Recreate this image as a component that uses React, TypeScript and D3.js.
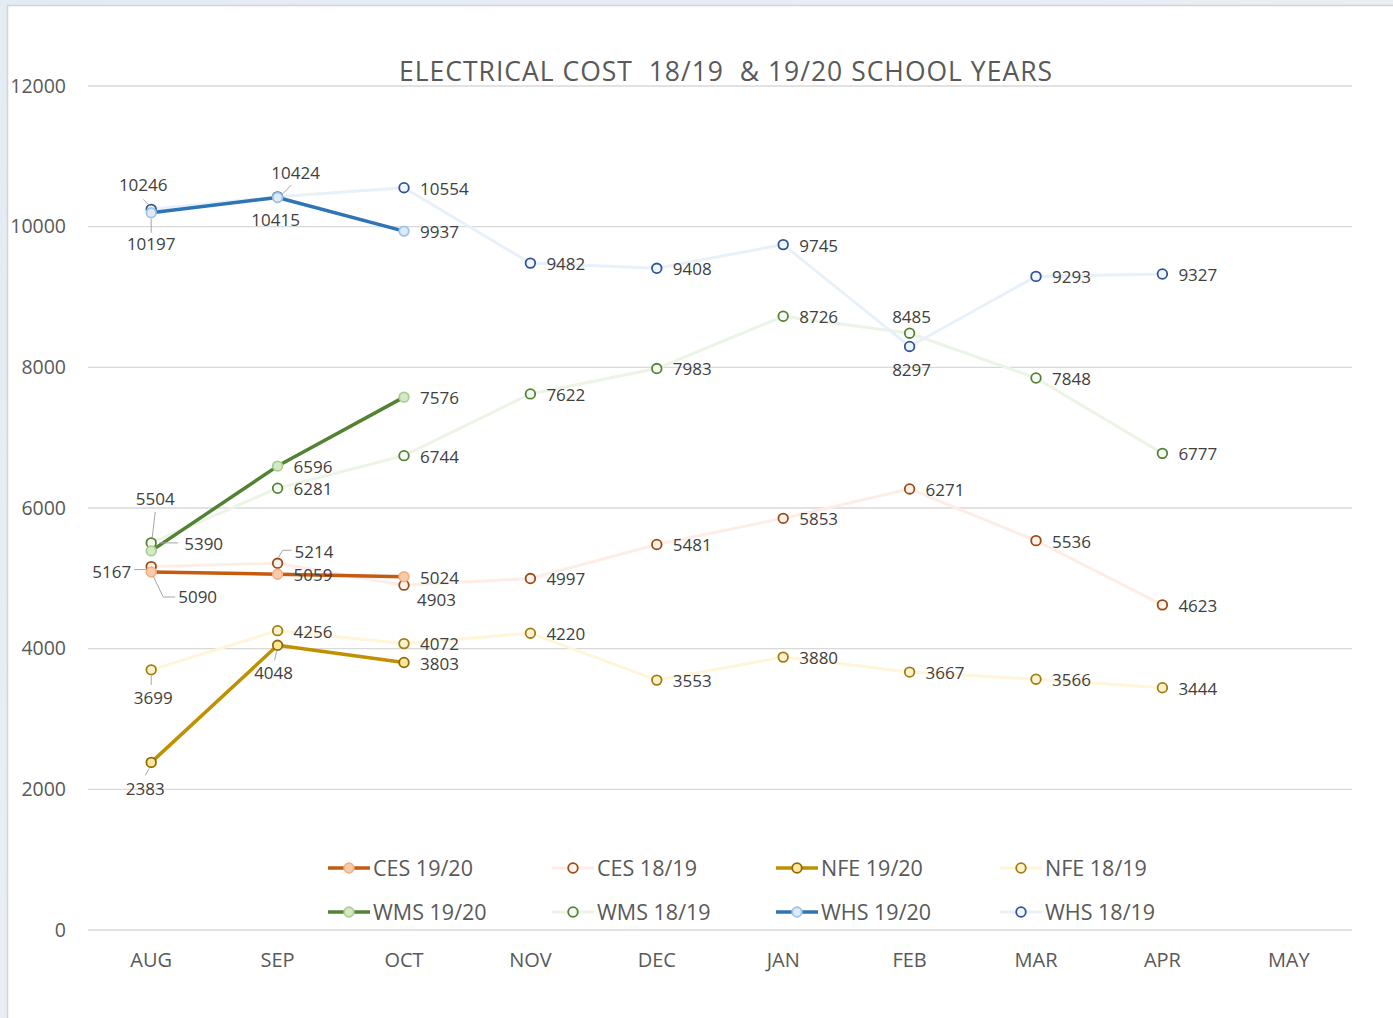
import React, { useEffect } from "react";
import * as d3 from "d3";

const months = ["AUG", "SEP", "OCT", "NOV", "DEC", "JAN", "FEB", "MAR", "APR", "MAY"];
const yTicks = [0, 2000, 4000, 6000, 8000, 10000, 12000];

const ces1920 = [5090, 5059, 5024];
const ces1819 = [5167, 5214, 4903, 4997, 5481, 5853, 6271, 5536, 4623];
const nfe1920 = [2383, 4048, 3803];
const nfe1819 = [3699, 4256, 4072, 4220, 3553, 3880, 3667, 3566, 3444];
const wms1920 = [5390, 6596, 7576];
const wms1819 = [5504, 6281, 6744, 7622, 7983, 8726, 8485, 7848, 6777];
const whs1920 = [10197, 10415, 9937];
const whs1819 = [10246, 10424, 10554, 9482, 9408, 9745, 8297, 9293, 9327];

type Style = { line: string; width: number; fill: string; stroke: string };

const series: { name: string; values: number[]; style: Style }[] = [
  { name: "CES 19/20", values: ces1920, style: { line: "#C55A11", width: 3.5, fill: "#F8CBAD", stroke: "#F4B183" } },
  { name: "CES 18/19", values: ces1819, style: { line: "#FCEEE6", width: 3, fill: "#FDF3EC", stroke: "#9C4A16" } },
  { name: "NFE 19/20", values: nfe1920, style: { line: "#BF9000", width: 3.5, fill: "#FFE699", stroke: "#8A6D0A" } },
  { name: "NFE 18/19", values: nfe1819, style: { line: "#FFF5D9", width: 3, fill: "#FFF2CC", stroke: "#A07E10" } },
  { name: "WMS 19/20", values: wms1920, style: { line: "#548235", width: 3.5, fill: "#D5E8C8", stroke: "#A9D18E" } },
  { name: "WMS 18/19", values: wms1819, style: { line: "#EBF4E5", width: 3, fill: "#F6FAF3", stroke: "#548235" } },
  { name: "WHS 19/20", values: whs1920, style: { line: "#2E75B6", width: 3.5, fill: "#DEEBF7", stroke: "#9DC3E6" } },
  { name: "WHS 18/19", values: whs1819, style: { line: "#E8F1FA", width: 3, fill: "#F2F6FC", stroke: "#2F5597" } },
];

// label placement overrides: key "series|index"
type Lbl = { dx: number; dy: number; anchor?: string; leader?: [number, number][] };
const labelOverrides: Record<string, Lbl> = {
  "WHS 18/19|0": { dx: -8, dy: -24, anchor: "middle", leader: [[-2, -4], [-8, -10]] },
  "WHS 19/20|0": { dx: 0, dy: 31, anchor: "middle", leader: [[0, 6], [0, 20]] },
  "WHS 18/19|1": { dx: 18, dy: -24, anchor: "middle", leader: [[5, -3], [14, -12]] },
  "WHS 19/20|1": { dx: -2, dy: 23, anchor: "middle" },
  "WMS 18/19|6": { dx: 2, dy: -16, anchor: "middle" },
  "WHS 18/19|6": { dx: 2, dy: 24, anchor: "middle" },
  "WMS 18/19|0": { dx: 4, dy: -44, anchor: "middle", leader: [[1, -5], [4, -31]] },
  "WMS 19/20|0": { dx: 33, dy: -7, leader: [[8, -8], [27, -8]] },
  "CES 18/19|0": { dx: -20, dy: 5, anchor: "end", leader: [[-5, 3], [-17, 3]] },
  "CES 19/20|0": { dx: 27, dy: 25, leader: [[2, 4], [12, 25], [24, 25]] },
  "CES 18/19|1": { dx: 17, dy: -11, leader: [[1, -6], [5, -13], [14, -13]] },
  "CES 18/19|2": { dx: 13, dy: 15 },
  "NFE 18/19|2": { dx: 16, dy: 0 },
  "NFE 19/20|2": { dx: 16, dy: 2 },
  "NFE 19/20|1": { dx: -4, dy: 28, anchor: "middle", leader: [[-1, 6], [-3, 15]] },
  "NFE 18/19|0": { dx: 2, dy: 28, anchor: "middle", leader: [[0, 6], [0, 15]] },
  "NFE 19/20|0": { dx: -6, dy: 27, anchor: "middle", leader: [[-2, 6], [-6, 13]] },
};

const W = 1393;
const H = 1018;
const FONT = "'Open Sans', 'Noto Sans', sans-serif";

export default function App() {
  useEffect(() => {
    document.body.style.margin = "0";
  }, []);

  const x = d3.scaleBand<string>().domain(months).range([88, 1352]);
  const y = d3.scaleLinear().domain([0, 12000]).range([930, 86]);
  const cx = (i: number) => (x(months[i]) || 0) + x.bandwidth() / 2;
  const line = d3
    .line<number>()
    .x((_, i) => cx(i))
    .y((v) => y(v));

  // faint (18/19) first, then thick (19/20) on top
  const drawOrder = [...series.filter((s) => s.name.includes("18/19")), ...series.filter((s) => s.name.includes("19/20"))];

  const legendCols = [328, 552, 776, 1000];
  const legendRows = [868, 912];

  return (
    <svg width={W} height={H} style={{ display: "block", fontFamily: FONT }}>
      <defs>
        <linearGradient id="bg" x1="0" x2="1" y1="0" y2="1">
          <stop offset="0" stopColor="#E3EBF3" />
          <stop offset="1" stopColor="#EEF2F6" />
        </linearGradient>
      </defs>
      <rect x={0} y={0} width={W} height={H} fill="url(#bg)" />
      <rect x={7.5} y={5.5} width={W} height={H} fill="#FFFFFF" stroke="#D4D4D4" strokeWidth={1.5} />

      <text x={726} y={81} textAnchor="middle" fontSize={26.5} letterSpacing={1} fill="#595959" style={{ whiteSpace: "pre" }}>
        {"ELECTRICAL COST  18/19  & 19/20 SCHOOL YEARS"}
      </text>

      {yTicks.map((t) => (
        <g key={t}>
          <line x1={88} x2={1352} y1={y(t)} y2={y(t)} stroke="#D9D9D9" strokeWidth={1.3} />
          <text x={66} y={y(t)} dy="0.35em" textAnchor="end" fontSize={19.5} fill="#595959">
            {t}
          </text>
        </g>
      ))}

      {months.map((m, i) => (
        <text key={m} x={cx(i)} y={967} textAnchor="middle" fontSize={20} fill="#595959">
          {m}
        </text>
      ))}

      {drawOrder.map((s) => (
        <path key={s.name + "l"} d={line(s.values) || ""} fill="none" stroke={s.style.line} strokeWidth={s.style.width} strokeLinejoin="round" />
      ))}

      {drawOrder.map((s) => (
        <g key={s.name + "m"}>
          {s.values.map((v, i) => (
            <circle key={i} cx={cx(i)} cy={y(v)} r={4.8} fill={s.style.fill} stroke={s.style.stroke} strokeWidth={1.8} />
          ))}
        </g>
      ))}

      {series.map((s) =>
        s.values.map((v, i) => {
          const px = cx(i);
          const py = y(v);
          const o = labelOverrides[`${s.name}|${i}`] || { dx: 16, dy: 1 };
          return (
            <g key={`${s.name}-${i}`}>
              {o.leader && (
                <polyline
                  points={o.leader.map(([a, b]) => `${px + a},${py + b}`).join(" ")}
                  fill="none"
                  stroke="#A6A6A6"
                  strokeWidth={1}
                />
              )}
              <text x={px + o.dx} y={py + o.dy} dy="0.35em" textAnchor={o.anchor || "start"} fontSize={17} fill="#404040">
                {v}
              </text>
            </g>
          );
        })
      )}

      {series.map((s, k) => {
        const lx = legendCols[k % 4];
        const ly = legendRows[Math.floor(k / 4)];
        return (
          <g key={s.name + "leg"}>
            <line x1={lx} x2={lx + 42} y1={ly} y2={ly} stroke={s.style.line} strokeWidth={s.style.width} />
            <circle cx={lx + 21} cy={ly} r={4.8} fill={s.style.fill} stroke={s.style.stroke} strokeWidth={1.8} />
            <text x={lx + 45} y={ly} dy="0.35em" fontSize={21.5} fill="#595959">
              {s.name}
            </text>
          </g>
        );
      })}
    </svg>
  );
}
